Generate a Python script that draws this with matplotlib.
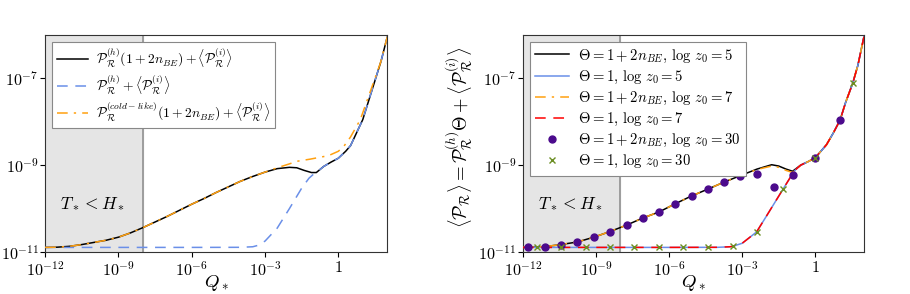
import numpy as np
import matplotlib
matplotlib.use("Agg")
import matplotlib.pyplot as plt
from matplotlib.ticker import FixedLocator, FixedFormatter, NullLocator

plt.rcParams['mathtext.fontset'] = 'cm'
plt.rcParams['font.family'] = 'serif'
plt.rcParams['font.serif'] = ['cmr10', 'DejaVu Serif']
plt.rcParams['axes.unicode_minus'] = False

# ---------------- data (log10 values) ----------------
# Left panel
L_black_logQ = [-12, -11.5, -11, -10.5, -10, -9.5, -9, -8.5, -8, -7.5, -7, -6.5, -6, -5.5, -5,
                -4.5, -4, -3.5, -3, -2.5, -2, -1.7, -1.4, -1.1, -0.9, -0.6, -0.3, 0, 0.3, 0.5,
                0.75, 1.0, 1.25, 1.5, 1.75, 2.0]
L_black_logP = [-10.895, -10.89, -10.87, -10.83, -10.78, -10.73, -10.66, -10.56, -10.44, -10.31,
                -10.18, -10.04, -9.90, -9.77, -9.63, -9.50, -9.37, -9.26, -9.16, -9.08, -9.05,
                -9.06, -9.12, -9.17, -9.17, -9.03, -8.93, -8.84, -8.68, -8.55, -8.25, -7.95,
                -7.5, -7.05, -6.6, -6.05]
L_blue_logQ = [-12, -10, -8, -6, -4, -3.5, -3.3, -3.0, -2.5, -2.0, -1.5, -1.2, -1.0, -0.9, -0.6,
               -0.3, 0, 0.3, 0.5, 0.75, 1.0, 1.25, 1.5, 1.75, 2.0]
L_blue_logP = [-10.895, -10.895, -10.895, -10.895, -10.893, -10.88, -10.85, -10.75, -10.45,
               -10.0, -9.53, -9.30, -9.2, -9.17, -9.03, -8.93, -8.84, -8.68, -8.55, -8.25, -7.95,
               -7.5, -7.05, -6.6, -6.05]
L_orange_logQ = [-12, -11.5, -11, -10.5, -10, -9.5, -9, -8.5, -8, -7.5, -7, -6.5, -6, -5.5, -5,
                 -4.5, -4, -3.5, -3, -2.5, -2.0, -1.69, -1.14, -0.4, 0.0, 0.22, 0.5, 0.9, 1.31,
                 1.72, 2.0]
L_orange_logP = [-10.895, -10.89, -10.87, -10.83, -10.78, -10.73, -10.66, -10.56, -10.44, -10.31,
                 -10.18, -10.04, -9.90, -9.77, -9.63, -9.50, -9.37, -9.26, -9.16, -9.06, -8.97,
                 -8.91, -8.86, -8.78, -8.68, -8.57, -8.35, -7.95, -7.30, -6.65, -6.05]

# Right panel
R_black_logQ = [-12, -11.5, -11, -10.44, -9.77, -9.09, -8.43, -7.74, -7.09, -6.42, -5.75, -5.08,
                -4.40, -3.74, -3.07, -2.39, -1.79, -1.5, -1.2, -0.93, -0.6, -0.3, 0, 0.46, 0.75,
                1.02, 1.25, 1.54, 1.75, 2.0]
R_black_logP = [-10.895, -10.89, -10.87, -10.83, -10.77, -10.66, -10.53, -10.38, -10.22, -10.08,
                -9.89, -9.71, -9.55, -9.39, -9.24, -9.09, -8.99, -9.02, -9.09, -9.14, -9.0,
                -8.92, -8.83, -8.53, -8.25, -7.96, -7.55, -7.11, -6.7, -6.04]
R_orange_logQ = R_black_logQ
R_orange_logP = [-10.895, -10.89, -10.87, -10.83, -10.77, -10.66, -10.53, -10.38, -10.22, -10.08,
                 -9.89, -9.71, -9.55, -9.39, -9.24, -9.10, -9.02, -9.05, -9.12, -9.17, -9.0,
                 -8.92, -8.83, -8.53, -8.25, -7.96, -7.55, -7.11, -6.7, -6.04]
R_blue_logQ = [-12, -10, -8, -6, -4, -3.5, -3.39, -3.0, -2.41, -2.0, -1.32, -1.0, -0.8, -0.6,
               -0.3, 0, 0.46, 0.75, 1.02, 1.25, 1.54, 1.75, 2.0]
R_blue_logP = [-10.895, -10.895, -10.895, -10.895, -10.893, -10.88, -10.87, -10.80, -10.54,
               -10.17, -9.55, -9.26, -9.10, -9.0, -8.92, -8.83, -8.53, -8.25, -7.96, -7.55,
               -7.11, -6.7, -6.04]
R_red_logQ = R_blue_logQ
R_red_logP = R_blue_logP
R_dots_logQ = [-11.78, -11.11, -10.44, -9.77, -9.09, -8.43, -7.74, -7.09, -6.42, -5.75, -5.08,
               -4.40, -3.74, -3.07, -2.39, -1.70, -0.91, 0.01, 1.02]
R_dots_logP = [-10.894, -10.885, -10.83, -10.77, -10.66, -10.53, -10.38, -10.22, -10.08, -9.89,
               -9.71, -9.55, -9.39, -9.24, -9.21, -9.51, -9.23, -8.83, -7.96]
R_x_logQ = [-11.44, -10.44, -9.43, -8.43, -7.43, -6.42, -5.42, -4.40, -3.39, -2.41, -1.32,
            0.01, 1.54]
R_x_logP = [-10.89, -10.89, -10.89, -10.89, -10.89, -10.89, -10.89, -10.885, -10.87, -10.54,
            -9.55, -8.83, -7.11]

xticks = [1e-12, 1e-9, 1e-6, 1e-3, 1]
xticklabels = [r'$10^{-12}$', r'$10^{-9}$', r'$10^{-6}$', r'$10^{-3}$', r'$1$']
yticks = [1e-11, 1e-9, 1e-7]
yticklabels = [r'$10^{-11}$', r'$10^{-9}$', r'$10^{-7}$']

left_labels = [r'$\mathcal{P}_\mathcal{R}^{(h)}(1+2n_{BE})+\langle\mathcal{P}_\mathcal{R}^{(i)}\rangle$',
               r'$\mathcal{P}_\mathcal{R}^{(h)}+\langle\mathcal{P}_\mathcal{R}^{(i)}\rangle$',
               r'$\mathcal{P}_\mathcal{R}^{(cold-like)}(1+2n_{BE})+\langle\mathcal{P}_\mathcal{R}^{(i)}\rangle$']
right_labels = [r'$\Theta=1+2n_{BE}$, $\log\,z_0=5$',
                r'$\Theta=1$, $\log\,z_0=5$',
                r'$\Theta=1+2n_{BE}$, $\log\,z_0=7$',
                r'$\Theta=1$, $\log\,z_0=7$',
                r'$\Theta=1+2n_{BE}$, $\log\,z_0=30$',
                r'$\Theta=1$, $\log\,z_0=30$']

def p(v):
    return 10.0 ** np.asarray(v)

fig = plt.figure(figsize=(9.1, 2.94), dpi=100)
axL = fig.add_axes([0.0495, 0.143, 0.376, 0.738])
axR = fig.add_axes([0.5747, 0.143, 0.3747, 0.738])

BLUE = '#6a8fe8'
ORANGE = '#ffa010'

for ax in (axL, axR):
    ax.set_xscale('log')
    ax.set_yscale('log')
    ax.set_xlim(1e-12, 1e2)
    ax.set_ylim(1e-11, 1e-6)
    ax.axvspan(1e-12, 1e-8, color='#e5e5e5', zorder=0)
    ax.axvline(1e-8, color='#909090', lw=1.2, zorder=1)
    ax.xaxis.set_major_locator(FixedLocator(xticks))
    ax.xaxis.set_major_formatter(FixedFormatter(xticklabels))
    ax.xaxis.set_minor_locator(NullLocator())
    ax.yaxis.set_major_locator(FixedLocator(yticks))
    ax.yaxis.set_major_formatter(FixedFormatter(yticklabels))
    ax.yaxis.set_minor_locator(NullLocator())
    ax.tick_params(labelsize=11.6, length=3.5, width=0.8, pad=2.5)
    ax.tick_params(axis='y', pad=1.2)
    for s in ax.spines.values():
        s.set_color('#333333')
    ax.set_xlabel(r'$Q_*$', fontsize=13.5)
    ax.xaxis.set_label_coords(0.5, -0.095)
    ax.text(0.14, 0.225, r'$T_*<H_*$', transform=ax.transAxes, fontsize=12.5,
            ha='center', va='center')

legkw = dict(loc='upper left', fancybox=False, edgecolor='#888888',
             framealpha=1, borderaxespad=0.5, handlelength=2.3, handletextpad=0.6,
             borderpad=0.35)

# Left panel
axL.plot(p(L_black_logQ), p(L_black_logP), color='black', lw=1.1, label=left_labels[0], zorder=3)
axL.plot(p(L_blue_logQ), p(L_blue_logP), color=BLUE, lw=1.1, ls=(0, (7, 5)), label=left_labels[1], zorder=4)
axL.plot(p(L_orange_logQ), p(L_orange_logP), color=ORANGE, lw=1.1, ls=(0, (7, 4, 1.5, 4)),
         label=left_labels[2], zorder=4)
legL = axL.legend(labelspacing=0.3, fontsize=9.8, **legkw)
legL.get_frame().set_linewidth(0.8)

# Right panel
axR.plot(p(R_black_logQ), p(R_black_logP), color='black', lw=1.1, label=right_labels[0], zorder=3)
axR.plot(p(R_blue_logQ), p(R_blue_logP), color=BLUE, lw=1.1, label=right_labels[1], zorder=3)
axR.plot(p(R_orange_logQ), p(R_orange_logP), color=ORANGE, lw=1.1, ls=(0, (7, 4, 1.5, 4)),
         label=right_labels[2], zorder=4)
axR.plot(p(R_red_logQ), p(R_red_logP), color='red', lw=1.1, ls=(0, (7, 5)), label=right_labels[3], zorder=4)
axR.plot(p(R_dots_logQ), p(R_dots_logP), 'o', color='#4b0a8c', ms=5.0, ls='none',
         label=right_labels[4], zorder=5)
axR.plot(p(R_x_logQ), p(R_x_logP), 'x', color='#6b8e23', ms=4.5, mew=1.0, ls='none',
         label=right_labels[5], zorder=6)
legR = axR.legend(labelspacing=0.28, fontsize=10.6, **legkw)
legR.get_frame().set_linewidth(0.8)
axR.set_ylabel(r'$\langle\mathcal{P}_\mathcal{R}\rangle=\mathcal{P}_\mathcal{R}^{(h)}\Theta+\langle\mathcal{P}_\mathcal{R}^{(i)}\rangle$',
               fontsize=13.5)
axR.yaxis.set_label_coords(-0.142, 0.53)

fig.savefig('out.png', dpi=100)
